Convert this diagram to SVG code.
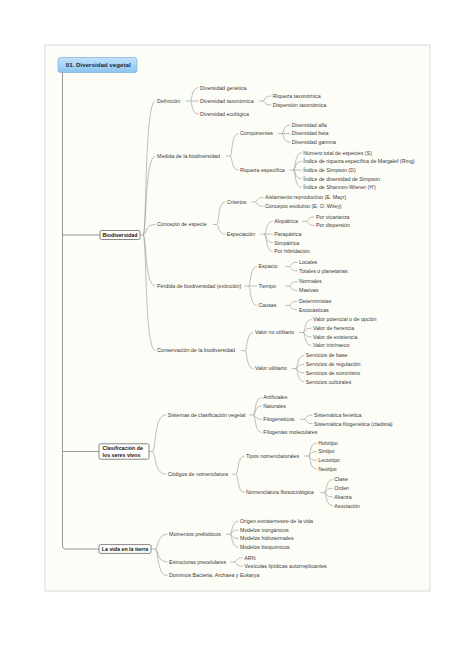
<svg xmlns="http://www.w3.org/2000/svg" width="474" height="670" viewBox="0 0 474 670">
<defs>
<linearGradient id="tg" x1="0" y1="0" x2="0" y2="1">
<stop offset="0" stop-color="#c4e2fb"/>
<stop offset="1" stop-color="#8cc4ef"/>
</linearGradient>
<style>
.t{font-family:"Liberation Sans",Arial,sans-serif;font-size:5.3px;fill:#3a3a3a}
.b{font-family:"Liberation Sans",Arial,sans-serif;font-size:5.3px;font-weight:bold;fill:#111}
.bx{fill:#fff;stroke:#555;stroke-width:0.7}
#connectors path{fill:none;stroke:#9a9a9a;stroke-width:0.65}
#trunk path{fill:none;stroke:#8a8a8a;stroke-width:0.9}
</style>
</defs>
<rect width="474" height="670" fill="#fff"/>
<rect x="45" y="45" width="385" height="546" fill="#fdfdf7" stroke="#cfcfcf" stroke-width="0.8"/>

<g id="trunk">
<path d="M62.5,72.5V235H100M62.5,235V451.5H99M62.5,451.5V546Q62.5,549 65.5,549H99"/>
</g>

<g id="connectors">
<path d="M140,235H143M143,235C146.8,235 144.3,101 155.5,101M143,235C146.8,235 144.3,156 155.5,156M143,235C146.8,235 144.3,224.5 155.5,224.5M143,235C146.8,235 144.3,286 155.5,286M143,235C146.8,235 144.3,350.6 155.5,350.6"/>
<path d="M186,101H190M190,101C192.6,101 190.9,87.7 198.5,87.7M190,101H198.5M190,101C192.6,101 190.9,114 198.5,114"/>
<path d="M258.7,101H262.7M262.7,101C265.3,101 263.6,96 271.2,96M262.7,101C265.3,101 263.6,105 271.2,105"/>
<path d="M226,156H230M230,156C232.6,156 230.9,133.6 238.5,133.6M230,156C232.6,156 230.9,170.1 238.5,170.1"/>
<path d="M277.7,133.6H281.7M281.7,133.6C284.3,133.6 282.6,125 290.2,125M281.7,133.6H290.2M281.7,133.6C284.3,133.6 282.6,142.3 290.2,142.3"/>
<path d="M289.3,170.1H293.3M293.3,170.1C295.9,170.1 294.2,152.7 301.8,152.7M293.3,170.1C295.9,170.1 294.2,161.4 301.8,161.4M293.3,170.1H301.8M293.3,170.1C295.9,170.1 294.2,178.8 301.8,178.8M293.3,170.1C295.9,170.1 294.2,187.5 301.8,187.5"/>
<path d="M212.7,224.5H216.7M216.7,224.5C219.3,224.5 217.6,201.9 225.2,201.9M216.7,224.5C219.3,224.5 217.6,234.1 225.2,234.1"/>
<path d="M251,201.9H255M255,201.9C257.6,201.9 255.9,197.5 263.5,197.5M255,201.9C257.6,201.9 255.9,206.2 263.5,206.2"/>
<path d="M260.3,234.1H264.3M264.3,234.1C266.9,234.1 265.2,221.3 272.8,221.3M264.3,234.1H272.8M264.3,234.1C266.9,234.1 265.2,242.7 272.8,242.7M264.3,234.1C266.9,234.1 265.2,251.4 272.8,251.4"/>
<path d="M302,221.3H306M306,221.3C308.6,221.3 306.9,216.9 314.5,216.9M306,221.3C308.6,221.3 306.9,225.6 314.5,225.6"/>
<path d="M244.5,286H248.5M248.5,286C251.1,286 249.4,266.6 257,266.6M248.5,286H257M248.5,286C251.1,286 249.4,305.4 257,305.4"/>
<path d="M285,266.6H289M289,266.6C291.6,266.6 289.9,262.2 297.5,262.2M289,266.6C291.6,266.6 289.9,271 297.5,271"/>
<path d="M285,286H289M289,286C291.6,286 289.9,281.6 297.5,281.6M289,286C291.6,286 289.9,290.4 297.5,290.4"/>
<path d="M285,305.4H289M289,305.4C291.6,305.4 289.9,301 297.5,301M289,305.4C291.6,305.4 289.9,309.8 297.5,309.8"/>
<path d="M241,350.6H245M245,350.6C247.6,350.6 245.9,332.5 253.5,332.5M245,350.6C247.6,350.6 245.9,368.6 253.5,368.6"/>
<path d="M299,332.5H303M303,332.5C305.6,332.5 303.9,319.5 311.5,319.5M303,332.5C305.6,332.5 303.9,328.2 311.5,328.2M303,332.5C305.6,332.5 303.9,336.9 311.5,336.9M303,332.5C305.6,332.5 303.9,345.6 311.5,345.6"/>
<path d="M291.7,368.6H295.7M295.7,368.6C298.3,368.6 296.6,355.6 304.2,355.6M295.7,368.6C298.3,368.6 296.6,364.3 304.2,364.3M295.7,368.6C298.3,368.6 296.6,373 304.2,373M295.7,368.6C298.3,368.6 296.6,381.7 304.2,381.7"/>
<path d="M149,451.5H152M152,451.5C156.3,451.5 153.4,414.8 166.2,414.8M152,451.5C156.3,451.5 153.4,474.2 166.2,474.2"/>
<path d="M249.3,414.8H253.3M253.3,414.8C255.9,414.8 254.2,397.3 261.8,397.3M253.3,414.8C255.9,414.8 254.2,406 261.8,406M253.3,414.8C255.9,414.8 254.2,419.35 261.8,419.35M253.3,414.8C255.9,414.8 254.2,432.4 261.8,432.4"/>
<path d="M300,419.35H304M304,419.35C306.6,419.35 304.9,415 312.5,415M304,419.35C306.6,419.35 304.9,423.7 312.5,423.7"/>
<path d="M232,474.2H236M236,474.2C238.6,474.2 236.9,456 244.5,456M236,474.2C238.6,474.2 236.9,492.6 244.5,492.6"/>
<path d="M304.3,456H308.3M308.3,456C310.9,456 309.2,442.9 316.8,442.9M308.3,456C310.9,456 309.2,451.6 316.8,451.6M308.3,456C310.9,456 309.2,460.3 316.8,460.3M308.3,456C310.9,456 309.2,469 316.8,469"/>
<path d="M320.3,492.6H324.3M324.3,492.6C326.9,492.6 325.2,479.6 332.8,479.6M324.3,492.6C326.9,492.6 325.2,488.3 332.8,488.3M324.3,492.6C326.9,492.6 325.2,497 332.8,497M324.3,492.6C326.9,492.6 325.2,505.7 332.8,505.7"/>
<path d="M151,549H155M155,549C158.8,549 156.3,534.25 167.5,534.25M155,549C158.8,549 156.3,562 167.5,562M155,549C158.8,549 156.3,575.5 167.5,575.5"/>
<path d="M226,534.25H230M230,534.25C232.6,534.25 230.9,521.2 238.5,521.2M230,534.25C232.6,534.25 230.9,529.9 238.5,529.9M230,534.25C232.6,534.25 230.9,538.6 238.5,538.6M230,534.25C232.6,534.25 230.9,547.3 238.5,547.3"/>
<path d="M230.3,562H234.3M234.3,562C236.9,562 235.2,557.7 242.8,557.7M234.3,562C236.9,562 235.2,566.3 242.8,566.3"/>
</g>

<g id="root">
<rect x="58" y="57.5" width="79" height="15" rx="2.5" fill="url(#tg)" stroke="#7aaedc" stroke-width="0.7"/>
<text x="65.7" y="67.2" style="font-family:'Liberation Sans',Arial,sans-serif;font-size:6.2px;font-weight:bold;fill:#1b2a3e">01. Diversidad vegetal</text>
</g>

<g id="biodiversidad">
<rect class="bx" x="100" y="230.5" width="40" height="9" rx="1.5"/>
<text class="b" x="120" y="236.9" text-anchor="middle">Biodiversidad</text>
</g>
<g id="clasificacion">
<rect class="bx" x="99" y="443.8" width="50" height="15.4" rx="1.5"/>
<text class="b" x="102.5" y="450.3">Clasificación de</text>
<text class="b" x="102.5" y="456.9">los seres vivos</text>
</g>
<g id="vida">
<rect class="bx" x="99" y="544.6" width="52" height="8.8" rx="1.5"/>
<text class="b" x="125" y="550.9" text-anchor="middle">La vida en la tierra</text>
</g>

<g id="definicion"><text class="t" x="157" y="102.85">Definición</text></g>
<g id="div-genetica"><text class="t" x="200" y="89.55">Diversidad genética</text></g>
<g id="div-taxonomica"><text class="t" x="200" y="102.85">Diversidad taxonómica</text></g>
<g id="riqueza-tax"><text class="t" x="272.7" y="97.85">Riqueza taxonómica</text></g>
<g id="dispersion-tax"><text class="t" x="272.7" y="106.85">Dispersión taxonómica</text></g>
<g id="div-ecologica"><text class="t" x="200" y="115.85">Diversidad ecológica</text></g>

<g id="medida"><text class="t" x="157" y="157.85">Medida de la biodiversidad</text></g>
<g id="componentes"><text class="t" x="240" y="135.45">Componentes</text></g>
<g id="div-alfa"><text class="t" x="291.7" y="126.85">Diversidad alfa</text></g>
<g id="div-beta"><text class="t" x="291.7" y="135.45">Diversidad beta</text></g>
<g id="div-gamma"><text class="t" x="291.7" y="144.15">Diversidad gamma</text></g>
<g id="riqueza-esp"><text class="t" x="240" y="171.95">Riqueza específica</text></g>
<g id="numero-total"><text class="t" x="303.3" y="154.55">Número total de especies (S)</text></g>
<g id="margalef"><text class="t" x="303.3" y="163.25">Índice de riqueza específica de Margalef (Rmg)</text></g>
<g id="simpson-d"><text class="t" x="303.3" y="171.95">Índice de Simpson (D)</text></g>
<g id="simpson-div"><text class="t" x="303.3" y="180.65">Índice de diversidad de Simpson</text></g>
<g id="shannon"><text class="t" x="303.3" y="189.35">Índice de Shannon-Wiener (H')</text></g>

<g id="concepto"><text class="t" x="157" y="226.35">Concepto de especie</text></g>
<g id="criterios"><text class="t" x="226.7" y="203.75">Criterios</text></g>
<g id="aislamiento"><text class="t" x="265" y="199.35">Aislamiento reproductivo (E. Mayr)</text></g>
<g id="evolutivo"><text class="t" x="265" y="208.05">Concepto evolutivo (E. O. Wiley)</text></g>
<g id="especiacion"><text class="t" x="226.7" y="235.95">Especiación</text></g>
<g id="alopatrica"><text class="t" x="274.3" y="223.15">Alopátrica</text></g>
<g id="vicarianza"><text class="t" x="316" y="218.75">Por vicarianza</text></g>
<g id="dispersion"><text class="t" x="316" y="227.45">Por dispersión</text></g>
<g id="parapatrica"><text class="t" x="274.3" y="235.95">Parapátrica</text></g>
<g id="simpatrica"><text class="t" x="274.3" y="244.55">Simpátrica</text></g>
<g id="hibridacion"><text class="t" x="274.3" y="253.25">Por hibridación</text></g>

<g id="perdida"><text class="t" x="157" y="287.85">Pérdida de biodiversidad (extinción)</text></g>
<g id="espacio"><text class="t" x="258.5" y="268.45">Espacio</text></g>
<g id="locales"><text class="t" x="299" y="264.05">Locales</text></g>
<g id="totales"><text class="t" x="299" y="272.85">Totales o planetarias</text></g>
<g id="tiempo"><text class="t" x="258.5" y="287.85">Tiempo</text></g>
<g id="normales"><text class="t" x="299" y="283.45">Normales</text></g>
<g id="masivas"><text class="t" x="299" y="292.25">Masivas</text></g>
<g id="causas"><text class="t" x="258.5" y="307.25">Causas</text></g>
<g id="deterministas"><text class="t" x="299" y="302.85">Deterministas</text></g>
<g id="estocasticas"><text class="t" x="299" y="311.65">Estocásticas</text></g>

<g id="conservacion"><text class="t" x="157" y="352.45">Conservación de la biodiversidad</text></g>
<g id="no-utilitario"><text class="t" x="255" y="334.35">Valor no utilitario</text></g>
<g id="potencial"><text class="t" x="313" y="321.35">Valor potencial o de opción</text></g>
<g id="herencia"><text class="t" x="313" y="330.05">Valor de herencia</text></g>
<g id="existencia"><text class="t" x="313" y="338.75">Valor de existencia</text></g>
<g id="intrinseco"><text class="t" x="313" y="347.45">Valor intrínseco</text></g>
<g id="utilitario"><text class="t" x="255" y="370.45">Valor utilitario</text></g>
<g id="base"><text class="t" x="305.7" y="357.45">Servicios de base</text></g>
<g id="regulacion"><text class="t" x="305.7" y="366.15">Servicios de regulación</text></g>
<g id="suministro"><text class="t" x="305.7" y="374.85">Servicios de suministro</text></g>
<g id="culturales"><text class="t" x="305.7" y="383.55">Servicios culturales</text></g>

<g id="sistemas"><text class="t" x="167.7" y="416.65">Sistemas de clasificación vegetal</text></g>
<g id="artificiales"><text class="t" x="263.3" y="399.15">Artificiales</text></g>
<g id="naturales"><text class="t" x="263.3" y="407.85">Naturales</text></g>
<g id="filogeneticos"><text class="t" x="263.3" y="421.2">Filogenéticos</text></g>
<g id="fenetica"><text class="t" x="314" y="416.85">Sistemática fenética</text></g>
<g id="filogenetica"><text class="t" x="314" y="425.55">Sistemática filogenética (cladista)</text></g>
<g id="moleculares"><text class="t" x="263.3" y="434.25">Filogenias moleculares</text></g>
<g id="codigos"><text class="t" x="167.7" y="476.05">Códigos de nomenclatura</text></g>
<g id="tipos"><text class="t" x="246" y="457.85">Tipos nomenclaturales</text></g>
<g id="holotipo"><text class="t" x="318.3" y="444.75">Holotipo</text></g>
<g id="sintipo"><text class="t" x="318.3" y="453.45">Sintipo</text></g>
<g id="lectotipo"><text class="t" x="318.3" y="462.15">Lectotipo</text></g>
<g id="neotipo"><text class="t" x="318.3" y="470.85">Neotipo</text></g>
<g id="fitosociologica"><text class="t" x="246" y="494.45">Nomenclatura fitosociológica</text></g>
<g id="clase"><text class="t" x="334.3" y="481.45">Clase</text></g>
<g id="orden"><text class="t" x="334.3" y="490.15">Orden</text></g>
<g id="alianza"><text class="t" x="334.3" y="498.85">Alianza</text></g>
<g id="asociacion"><text class="t" x="334.3" y="507.55">Asociación</text></g>

<g id="momentos"><text class="t" x="169" y="536.1">Momentos prebióticos</text></g>
<g id="origen"><text class="t" x="240" y="523.05">Origen extraterrestre de la vida</text></g>
<g id="inorganicos"><text class="t" x="240" y="531.75">Modelos inorgánicos</text></g>
<g id="hidrotermales"><text class="t" x="240" y="540.45">Modelos hidrotermales</text></g>
<g id="bioquimicos"><text class="t" x="240" y="549.15">Modelos bioquímicos</text></g>
<g id="estructuras"><text class="t" x="169" y="563.85">Estructuras precelulares</text></g>
<g id="arn"><text class="t" x="244.3" y="559.55">ARN</text></g>
<g id="vesiculas"><text class="t" x="244.3" y="568.15">Vesículas lipídicas autorreplicantes</text></g>
<g id="dominios"><text class="t" x="169" y="577.35">Dominios Bacteria, Archaea y Eukarya</text></g>
</svg>
